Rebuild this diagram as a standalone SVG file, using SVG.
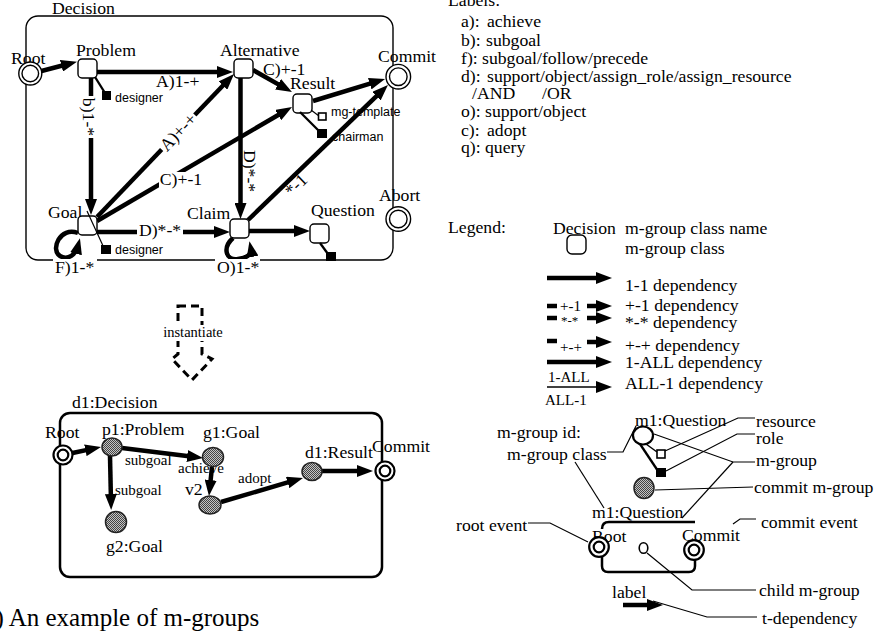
<svg xmlns="http://www.w3.org/2000/svg" width="875" height="638" viewBox="0 0 875 638">
<defs>
  <marker id="ah" markerUnits="userSpaceOnUse" markerWidth="16" markerHeight="12" refX="8" refY="6" orient="auto">
    <path d="M0,0 L16,6 L0,12 z" fill="#000"/>
  </marker>
  <pattern id="dots" patternUnits="userSpaceOnUse" width="2" height="2">
    <rect width="2" height="2" fill="#c4c4c4"/>
    <rect width="1" height="1" fill="#444"/>
    <rect x="1" y="1" width="1" height="1" fill="#444"/>
  </pattern>
  <style>
    text { font-family: "Liberation Serif", "Times New Roman", serif; font-size: 17.7px; fill: #000; }
    .sans { font-family: "Liberation Sans", Arial, sans-serif; font-size: 12.5px; }
    .sm { font-size: 15px; }
    .cap { font-size: 25px; }
    .mid { text-anchor: middle; dominant-baseline: central; }
    .box { fill: #fff; stroke: #000; stroke-width: 1.4; }
    .ring { fill: #fff; stroke: #000; stroke-width: 1.4; }
    .ring2 { fill: #fff; stroke: #000; stroke-width: 2.2; }
    .inst { fill: url(#dots); stroke: #222; stroke-width: 1.5; }
    .dep { fill: none; stroke: #000; stroke-width: 4.5; }
    .arr { marker-end: url(#ah); }
    .thin { fill: none; stroke: #000; stroke-width: 1.2; }
    .tie { fill: none; stroke: #000; stroke-width: 2.3; }
    .frame { fill: none; stroke: #000; stroke-width: 1.4; }
    .frame2 { fill: none; stroke: #000; stroke-width: 2.5; }
    .bg { fill: #fff; }
    .blk { fill: #000; }
    .hol { fill: #fff; stroke: #000; stroke-width: 1.6; }
  </style>
</defs>

<!-- ===== m-group class diagram: Decision ===== -->
<g id="decision">
  <rect class="frame" x="26" y="16" width="367" height="244" rx="12"/>
  <text x="52" y="14">Decision</text>
</g>

<g id="connectors">
  <path class="dep arr" d="M41.5,71 L69.2,63.8"/>
  <path class="dep arr" d="M97,72 L225,72"/>
  <path class="dep arr" d="M253,70 L285,88.1"/>
  <path class="dep arr" d="M313,101 L377.4,81.3"/>
  <path class="dep arr" d="M91,78 L91,207"/>
  <path class="dep arr" d="M97,217 L228.5,79.8"/>
  <path class="dep arr" d="M97,221 L285.1,111"/>
  <path class="dep arr" d="M240.5,78 L240.5,211"/>
  <path class="dep arr" d="M248,220 L382.2,90.6"/>
  <path class="dep arr" d="M97,232 L222,232"/>
  <path class="dep arr" d="M249,231 L302,231"/>
  <path class="dep arr" d="M78,233 C60,226 50,250 60,256 C68,261 76,254 78,246"/>
  <path class="dep arr" d="M233,238 C222,248 226,261 238,259 C247,258 252,254 251,249"/>
</g>

<g id="edge-labels">
  <text x="156" y="87">A)1-+</text>
  <text x="263" y="75">C)+-1</text>
  <g transform="translate(89,117) rotate(90)">
    <rect class="bg" x="-21" y="-8" width="42" height="16"/>
    <text class="mid" x="0" y="0">b)1-*</text>
  </g>
  <g transform="translate(178,132) rotate(-46.2)">
    <rect class="bg" x="-24" y="-8" width="48" height="16"/>
    <text class="mid" x="0" y="0">A)+-+</text>
  </g>
  <rect class="bg" x="159" y="172" width="44" height="16"/>
  <text x="181" y="185" text-anchor="middle">C)+-1</text>
  <g transform="translate(250,171) rotate(90)">
    <text class="mid" x="0" y="0">D)*-*</text>
  </g>
  <g transform="translate(296,185) rotate(-44.4)">
    <text class="mid" x="0" y="0">*-1</text>
  </g>
  <rect class="bg" x="137" y="224" width="46" height="16"/>
  <text x="160" y="236" text-anchor="middle">D)*-*</text>
  <rect class="bg" x="53" y="259" width="44" height="18"/>
  <text x="55" y="273">F)1-*</text>
  <rect class="bg" x="215" y="259" width="45" height="18"/>
  <text x="217" y="273">O)1-*</text>
</g>

<g id="root">
  <text x="11" y="64">Root</text>
  <circle class="ring" cx="30.3" cy="73.5" r="11.5"/>
  <circle class="ring" cx="30.3" cy="73.5" r="8.3"/>
</g>
<g id="problem">
  <text x="76" y="56">Problem</text>
  <rect class="box" x="78" y="59" width="19" height="19" rx="4"/>
  <path class="tie" d="M95,77 L105,93"/>
  <rect class="blk" x="102" y="91" width="9" height="9"/>
  <text class="sans" x="115" y="102">designer</text>
</g>
<g id="alternative">
  <text x="220" y="56">Alternative</text>
  <rect class="box" x="234" y="59" width="19" height="19" rx="4"/>
</g>
<g id="result">
  <text x="290" y="89">Result</text>
  <rect class="box" x="293" y="94" width="19" height="19" rx="4"/>
  <path class="thin" d="M311,110 L319,116"/>
  <rect class="hol" x="318.5" y="113" width="7.5" height="7"/>
  <text class="sans" x="331" y="116">mg-template</text>
  <path class="tie" d="M300,112 L320,132"/>
  <rect class="blk" x="317" y="129" width="10" height="9"/>
  <text class="sans" x="332" y="141">chairman</text>
</g>
<g id="commit">
  <text x="378" y="61.5">Commit</text>
  <circle class="ring" cx="398.3" cy="76.7" r="12.3"/>
  <circle class="ring" cx="398.3" cy="76.7" r="8.8"/>
</g>
<g id="goal">
  <text x="48" y="218">Goal</text>
  <rect class="box" x="78" y="216" width="19" height="19" rx="4"/>
  <path class="thin" d="M87,211 L104,248"/>
  <rect class="blk" x="101" y="245" width="10" height="9"/>
  <text class="sans" x="115" y="254">designer</text>
</g>
<g id="claim">
  <text x="187" y="219">Claim</text>
  <rect class="box" x="230" y="219" width="19" height="19" rx="4"/>
</g>
<g id="question">
  <text x="311" y="216">Question</text>
  <rect class="box" x="310" y="224" width="19" height="19" rx="4"/>
  <path class="tie" d="M320,243 L328,254"/>
  <rect class="blk" x="326" y="252" width="10" height="9"/>
</g>
<g id="abort">
  <text x="379" y="201">Abort</text>
  <circle class="ring" cx="398.3" cy="219" r="12.3"/>
  <circle class="ring" cx="398.3" cy="219" r="8.8"/>
</g>

<!-- ===== label key ===== -->
<g id="label-key">
  <text x="448" y="6">Labels:</text>
  <text x="461" y="27.3">a):<tspan x="487">achieve</tspan></text>
  <text x="461" y="45.7">b):<tspan x="486">subgoal</tspan></text>
  <text x="461" y="64">f):<tspan x="482">subgoal/follow/precede</tspan></text>
  <text x="461" y="81.7">d):<tspan x="487">support/object/assign_role/assign_resource</tspan></text>
  <text x="472" y="99">/AND<tspan x="542">/OR</tspan></text>
  <text x="461" y="117.3">o):<tspan x="485">support/object</tspan></text>
  <text x="461" y="135.5">c):<tspan x="487">adopt</tspan></text>
  <text x="461" y="153.3">q):<tspan x="485">query</tspan></text>
</g>

<!-- ===== notation legend ===== -->
<g id="legend">
  <text x="448" y="233">Legend:</text>
  <text x="553" y="234">Decision</text>
  <text x="625" y="234">m-group class name</text>
  <rect class="box" x="567" y="235" width="19" height="19" rx="5"/>
  <text x="625" y="254">m-group class</text>

  <path class="dep arr" d="M547,278 H604"/>
  <text x="625" y="291">1-1 dependency</text>

  <path class="dep" d="M547,306 H557"/>
  <text class="sm" x="560" y="311">+-1</text>
  <path class="dep arr" d="M587,306 H604"/>
  <text x="625" y="311">+-1 dependency</text>

  <path class="dep" d="M547,318 H557"/>
  <text class="sm" x="561" y="325" style="font-size:13px">*-*</text>
  <path class="dep arr" d="M587,318 H604"/>
  <text x="625" y="328">*-* dependency</text>

  <path class="dep" d="M547,341 H557"/>
  <text class="sm" x="560" y="352">+-+</text>
  <path class="dep arr" d="M587,342 H604"/>
  <text x="625" y="350.5">+-+ dependency</text>

  <path class="dep arr" d="M547,362 H604"/>
  <text x="625" y="368">1-ALL dependency</text>

  <text class="sm" x="548" y="382">1-ALL</text>
  <path class="thin arr" d="M547,387 H604" style="stroke-width:1.5"/>
  <text x="625" y="389">ALL-1 dependency</text>
  <text class="sm" x="545" y="405">ALL-1</text>
</g>

<!-- ===== m-group notation sample ===== -->
<g id="notation-leaders">
  <polyline class="thin" points="607,452 623,452 636,426"/>
  <polyline class="thin" points="575,462 604,508"/>
  <polyline class="thin" points="665,451 738,418 755,418"/>
  <polyline class="thin" points="666,471 737,434 755,434"/>
  <polyline class="thin" points="654,434 733,462 755,462"/>
  <polyline class="thin" points="682,518 733,462"/>
  <polyline class="thin" points="655,490 753,487"/>
  <polyline class="thin" points="528,523 550,523 588,542"/>
  <polyline class="thin" points="733,524 740,519 756,519"/>
  <polyline class="thin" points="647,553 692,590 756,590"/>
  <polyline class="thin" points="653,601 707,617 757,617"/>
</g>
<g id="notation">
  <text x="497" y="438">m-group id:</text>
  <text x="507" y="460">m-group class</text>
  <text x="635" y="426">m1:Question</text>
  <path class="thin" d="M646,444 L657,452" style="stroke-width:1.5"/>
  <path class="tie" d="M640,444 L658,471"/>
  <ellipse class="ring2" cx="643" cy="435.5" rx="10" ry="9"/>
  <rect class="hol" x="657" y="450" width="8" height="8"/>
  <rect class="blk" x="656" y="468" width="10" height="9"/>
  <ellipse class="inst" cx="644" cy="488" rx="10" ry="10.5"/>
  <text x="756" y="427">resource</text>
  <text x="756" y="444">role</text>
  <text x="756" y="466">m-group</text>
  <text x="754" y="493">commit m-group</text>

  <text x="592" y="518">m1:Question</text>
  <path class="frame2" d="M602,529 Q602,522 609,522 H695 M602,557 V566 Q602,572 608,572 H689 Q695,572 695,566 V559"/>
  <text x="592" y="542">Root</text>
  <circle class="ring2" cx="599" cy="547" r="9.8"/>
  <circle class="ring2" cx="599" cy="547" r="5.3"/>
  <text x="682" y="541">Commit</text>
  <circle class="ring2" cx="694" cy="550" r="9.8"/>
  <circle class="ring2" cx="694" cy="550" r="5.3"/>
  <ellipse class="hol" cx="643.5" cy="548" rx="4.3" ry="5.3"/>
  <text x="456" y="531">root event</text>
  <text x="761" y="528">commit event</text>
  <text x="759" y="596">child m-group</text>
  <text x="612" y="598">label</text>
  <path class="dep arr" d="M623,605 H655"/>
  <text x="762" y="624">t-dependency</text>
</g>

<!-- ===== instantiation step ===== -->
<g id="instantiate">
  <polygon points="178,306 202,306 202,354 212,359 192,380 172,359 178,354" fill="none" stroke="#000" stroke-width="3" stroke-dasharray="8,5"/>
  <rect class="bg" x="162" y="325" width="62" height="16"/>
  <text class="sm" x="193" y="337" text-anchor="middle" style="font-size:14.5px">instantiate</text>
</g>

<!-- ===== m-group instance: d1:Decision ===== -->
<g id="d1-decision">
  <rect class="frame2" x="60" y="413" width="322" height="164" rx="10"/>
  <text x="72" y="408">d1:Decision</text>
</g>
<g id="instance-labels">
  <text class="sm" x="125" y="465">subgoal</text>
  <text class="sm" x="178" y="473">achieve</text>
  <text class="sm" x="115" y="495">subgoal</text>
  <text class="sm" x="238" y="483">adopt</text>
</g>
<g id="instance-connectors">
  <path class="dep arr" d="M72.5,453 L93.2,448.6"/>
  <path class="dep arr" d="M122,448 L195.1,457"/>
  <path class="dep arr" d="M110,456 L111,502"/>
  <path class="dep arr" d="M212,467 L209.8,488"/>
  <path class="dep arr" d="M221,502 L295.3,480.2"/>
  <path class="dep arr" d="M322,471 H365"/>
</g>
<g id="d1-root">
  <text x="45" y="438">Root</text>
  <circle class="ring2" cx="63" cy="455" r="9.5"/>
  <circle class="ring2" cx="63" cy="455" r="5.3"/>
</g>
<g id="p1">
  <text x="102" y="435">p1:Problem</text>
  <ellipse class="inst" cx="112" cy="447" rx="10" ry="9"/>
</g>
<g id="g1">
  <text x="203" y="438">g1:Goal</text>
  <ellipse class="inst" cx="213" cy="457" rx="10.5" ry="9.5"/>
</g>
<g id="v2">
  <text x="185" y="495">v2</text>
  <ellipse class="inst" cx="210" cy="505" rx="11" ry="9"/>
</g>
<g id="g2">
  <text x="106" y="552">g2:Goal</text>
  <ellipse class="inst" cx="116" cy="522" rx="10.5" ry="10.5"/>
</g>
<g id="d1-result">
  <text x="305" y="458">d1:Result</text>
  <ellipse class="inst" cx="312" cy="471.5" rx="10" ry="9"/>
</g>
<g id="d1-commit">
  <text x="372" y="452">Commit</text>
  <circle class="ring2" cx="385" cy="471" r="9.5"/>
  <circle class="ring2" cx="385" cy="471" r="5.3"/>
</g>

<text class="cap" x="-4.5" y="626">) An example of m-groups</text>
</svg>
